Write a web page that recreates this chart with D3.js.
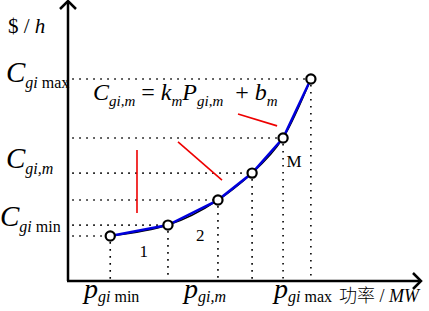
<!DOCTYPE html>
<html>
<head>
<meta charset="utf-8">
<script src="https://cdn.jsdelivr.net/npm/d3@7"></script>
<style>
  body { margin: 0; background: #fff; }
  text { font-family: "Liberation Serif", "Times New Roman", serif; fill: #000; }
</style>
</head>
<body>
<div id="chart"></div>
<script>
// segment break points of the cost curve (abstract units)
const power = [12, 28.4, 42.6, 52.3, 61.1, 69];
const cost = [16, 19.9, 28.8, 38.4, 50.9, 71.9];
const segLabels = [
  { t: "1", p: 21.5, c: 8.5 },
  { t: "2", p: 37.6, c: 14.3 },
  { t: "M", p: 64.2, c: 40.5 }
];
// red pointer lines from the formula to the segments
const pointers = [
  [[19.6, 46.6], [19.6, 24.2]],
  [[31.25, 49.5], [43.75, 35.9]],
  [[48.3, 59.4], [59.4, 55.2]]
];

const width = 429, height = 311;
const x = d3.scaleLinear().domain([0, 100]).range([68, 420]);
const y = d3.scaleLinear().domain([0, 100]).range([281, 0]);

const svg = d3.select("#chart").append("svg")
  .attr("width", width)
  .attr("height", height)
  .attr("font-family", "'Liberation Serif', serif");

const pts = power.map((p, i) => [p, cost[i]]);

// dotted guides
const guides = svg.append("g")
  .attr("stroke", "#000")
  .attr("stroke-width", 1.6)
  .attr("stroke-dasharray", "1.6,5.4")
  .attr("fill", "none");
guides.selectAll(".h").data(pts).join("line")
  .attr("x1", x(1.2)).attr("x2", d => x(d[0]))
  .attr("y1", d => y(d[1])).attr("y2", d => y(d[1]));
guides.selectAll(".v").data(pts).join("line")
  .attr("x1", d => x(d[0])).attr("x2", d => x(d[0]))
  .attr("y1", d => y(d[1]) + 6).attr("y2", y(0));

// axes with open arrow heads
const axes = svg.append("g").attr("stroke", "#000").attr("stroke-width", 2.5)
  .attr("fill", "none");
axes.append("line").attr("x1", x(0)).attr("y1", y(0)).attr("x2", x(0)).attr("y2", 1);
axes.append("line").attr("x1", x(0) - 1).attr("y1", y(0)).attr("x2", 421).attr("y2", y(0));
axes.append("polyline").attr("points", `${x(0) - 8},9 ${x(0)},1 ${x(0) + 8},9`);
axes.append("polyline").attr("points", `413,${y(0) - 8} 421,${y(0)} 413,${y(0) + 8}`);

// smooth cost curve and its piecewise linear approximation
svg.append("path").datum(pts)
  .attr("d", d3.line().x(d => x(d[0])).y(d => y(d[1])).curve(d3.curveNatural))
  .attr("fill", "none").attr("stroke", "#000").attr("stroke-width", 1.5);
svg.append("path").datum(pts)
  .attr("d", d3.line().x(d => x(d[0])).y(d => y(d[1])))
  .attr("fill", "none").attr("stroke", "#0000dd").attr("stroke-width", 2.5);

svg.selectAll("circle").data(pts).join("circle")
  .attr("cx", d => x(d[0])).attr("cy", d => y(d[1])).attr("r", 4.6)
  .attr("fill", "#fff").attr("stroke", "#000").attr("stroke-width", 2.2);

// red pointers
svg.append("g").selectAll("line").data(pointers).join("line")
  .attr("x1", d => x(d[0][0])).attr("y1", d => y(d[0][1]))
  .attr("x2", d => x(d[1][0])).attr("y2", d => y(d[1][1]))
  .attr("stroke", "#ee0000").attr("stroke-width", 1.6);

// segment numbers
svg.selectAll(".seg").data(segLabels).join("text")
  .attr("x", d => x(d.p)).attr("y", d => y(d.c))
  .attr("text-anchor", "middle").attr("font-size", 17)
  .text(d => d.t);

// rich text helper: parts = [text, size, italic, dy]
function rich(px, py, parts) {
  const t = svg.append("text").attr("x", px).attr("y", py);
  parts.forEach(([s, size, it, dy]) => {
    t.append("tspan").attr("font-size", size)
      .attr("font-style", it ? "italic" : "normal")
      .attr("dy", dy || 0)
      .attr("xml:space", "preserve")
      .text(s);
  });
  return t;
}

rich(8, 33, [["$ / ", 21, false], ["h", 21, true]]);
rich(6, 82, [["C", 29, true], ["gi", 16, true, 6], [" max", 16, false]]);
rich(6, 168, [["C", 29, true], ["gi,m", 16, true, 6]]);
rich(0, 226, [["C", 29, true], ["gi", 16, true, 6], [" min", 16, false]]);

rich(93, 100, [["C", 24, true], ["gi,m", 15, true, 6], [" = ", 24, false, -6],
  ["k", 24, true], ["m", 15, true, 6], ["P", 24, true, -6], ["gi,m", 15, true, 6],
  ["  + ", 24, false, -6], ["b", 24, true], ["m", 15, true, 6]]);

rich(84, 298, [["p", 28, true], ["gi", 16, true, 4], [" min", 16, false]]);
rich(184, 298, [["p", 28, true], ["gi,m", 16, true, 4]]);
rich(274, 298, [["p", 28, true], ["gi", 16, true, 4], [" max", 16, false]]);
const unit = svg.append("text").attr("x", 339).attr("y", 302);
unit.append("tspan").attr("font-size", 18).style("font-family", "'Noto Sans CJK SC'")
  .attr("font-weight", 300).text("功率");
unit.append("tspan").attr("font-size", 18).attr("xml:space", "preserve").text(" / ");
unit.append("tspan").attr("font-size", 18).attr("font-style", "italic").text("MW");
</script>
</body>
</html>
